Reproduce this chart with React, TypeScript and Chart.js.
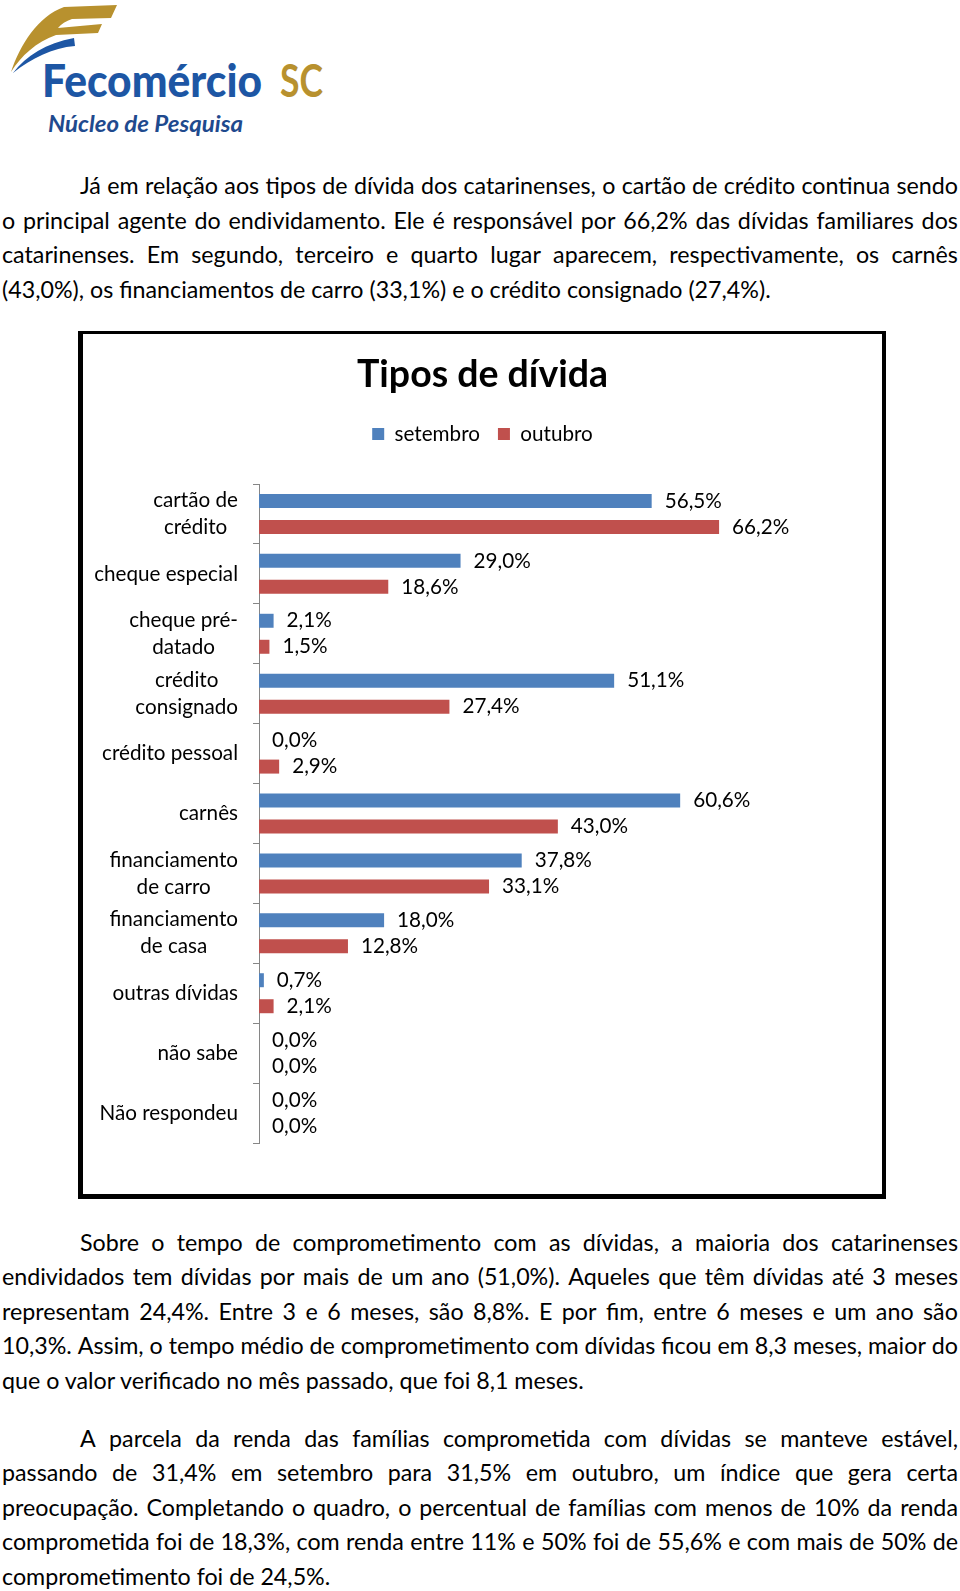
import React, { useEffect, useMemo, useRef } from 'react';
import { Chart, registerables } from 'chart.js';

Chart.register(...registerables);

const FONT = 'Lato';

const categories: string[][] = [
  ['cartão de', 'crédito'],
  ['cheque especial'],
  ['cheque pré-', 'datado'],
  ['crédito', 'consignado'],
  ['crédito pessoal'],
  ['carnês'],
  ['financiamento', 'de carro'],
  ['financiamento', 'de casa'],
  ['outras dívidas'],
  ['não sabe'],
  ['Não respondeu'],
];
const seriesLabels = ['setembro', 'outubro'];
const setembroValues = [56.5, 29.0, 2.1, 51.1, 0.0, 60.6, 37.8, 18.0, 0.7, 0.0, 0.0];
const outubroValues = [66.2, 18.6, 1.5, 27.4, 2.9, 43.0, 33.1, 12.8, 2.1, 0.0, 0.0];
const seriesColors = ['#4f81bd', '#c0504d'];
const chartTitle = 'Tipos de dívida';
const axisMin = 0;
const axisMax = 80;

const paragraph1 = [
  'Já em relação aos tipos de dívida dos catarinenses, o cartão de crédito continua sendo',
  'o principal agente do endividamento. Ele é responsável por 66,2% das dívidas familiares dos',
  'catarinenses. Em segundo, terceiro e quarto lugar aparecem, respectivamente, os carnês',
  '(43,0%), os financiamentos de carro (33,1%) e o crédito consignado (27,4%).',
];
const paragraph2 = [
  'Sobre o tempo de comprometimento com as dívidas, a maioria dos catarinenses',
  'endividados tem dívidas por mais de um ano (51,0%). Aqueles que têm dívidas até 3 meses',
  'representam 24,4%. Entre 3 e 6 meses, são 8,8%. E por fim, entre 6 meses e um ano são',
  '10,3%. Assim, o tempo médio de comprometimento com dívidas ficou em 8,3 meses, maior do',
  'que o valor verificado no mês passado, que foi 8,1 meses.',
];
const paragraph3 = [
  'A parcela da renda das famílias comprometida com dívidas se manteve estável,',
  'passando de 31,4% em setembro para 31,5% em outubro, um índice que gera certa',
  'preocupação. Completando o quadro, o percentual de famílias com menos de 10% da renda',
  'comprometida foi de 18,3%, com renda entre 11% e 50% foi de 55,6% e com mais de 50% de',
  'comprometimento foi de 24,5%.',
];

function measure(text: string, font: string): number {
  const c = document.createElement('canvas').getContext('2d')!;
  c.font = font;
  return c.measureText(text).width;
}
function fitSize(text: string, target: number, weight = 'normal'): number {
  const w = measure(text, `${weight} 100px ${FONT}`);
  return (100 * target) / w;
}

const fmt = (v: number) => v.toFixed(1).replace('.', ',') + '%';

const valueLabelPlugin = {
  id: 'valueLabels',
  afterDatasetsDraw(chart: any, _args: any, opts: any) {
    const ctx = chart.ctx;
    ctx.save();
    ctx.font = `normal ${opts.size}px ${FONT}`;
    ctx.fillStyle = '#000';
    ctx.textAlign = 'left';
    ctx.textBaseline = 'middle';
    chart.data.datasets.forEach((ds: any, di: number) => {
      const meta = chart.getDatasetMeta(di);
      meta.data.forEach((bar: any, i: number) => {
        ctx.fillText(fmt(ds.data[i]), bar.x + opts.gap, bar.y);
      });
    });
    ctx.restore();
  },
};

const categoryLabelPlugin = {
  id: 'categoryLabels',
  afterDraw(chart: any, _args: any, opts: any) {
    const ys = chart.scales.y;
    const ctx = chart.ctx;
    ctx.save();
    ctx.font = `normal ${opts.size}px ${FONT}`;
    ctx.fillStyle = '#000';
    ctx.textAlign = 'center';
    ctx.textBaseline = 'middle';
    const right = chart.chartArea.left - opts.offset;
    categories.forEach((lines, i) => {
      const cy = ys.getPixelForValue(i);
      const blockW = Math.max(...lines.map((l) => ctx.measureText(l).width));
      const cx = right - blockW / 2;
      lines.forEach((l, k) => {
        ctx.fillText(l, cx, cy + (k - (lines.length - 1) / 2) * opts.lineGap);
      });
    });
    ctx.restore();
  },
};

function BarChart({ labelSize, titleSize }: { labelSize: number; titleSize: number }) {
  const ref = useRef<HTMLCanvasElement>(null);
  useEffect(() => {
    if (!ref.current) return;
    const legendPad = 18;
    const titleCenter = 41;
    const legendCenter = 100;
    const plotTop = 150;
    const titleTop = titleCenter - 0.6 * titleSize;
    const titleH = legendCenter - legendPad - labelSize / 2;
    const titleBottom = titleH - titleTop - 1.2 * titleSize;
    const legendH = labelSize + legendPad + 10;
    const xAxisH = plotTop - titleH - legendH;

    const chart = new Chart(ref.current, {
      type: 'bar',
      data: {
        labels: categories.map((c) => c.join(' ')),
        datasets: [
          {
            label: seriesLabels[0],
            data: setembroValues,
            backgroundColor: seriesColors[0],
            borderWidth: 0,
            categoryPercentage: 0.868,
            barPercentage: 0.538,
          },
          {
            label: seriesLabels[1],
            data: outubroValues,
            backgroundColor: seriesColors[1],
            borderWidth: 0,
            categoryPercentage: 0.868,
            barPercentage: 0.538,
          },
        ],
      },
      options: {
        indexAxis: 'y',
        responsive: false,
        animation: false,
        layout: { padding: { left: 67, right: 67, top: 0, bottom: 51 } },
        plugins: {
          title: {
            display: true,
            text: chartTitle,
            color: '#000',
            font: { family: FONT, size: titleSize, weight: 'bold' },
            padding: { top: titleTop, bottom: titleBottom },
          },
          legend: {
            display: true,
            position: 'top',
            labels: {
              boxWidth: 12,
              boxHeight: 12,
              padding: legendPad,
              color: '#000',
              font: { family: FONT, size: labelSize },
            },
          },
          tooltip: { enabled: false },
          valueLabels: { size: labelSize, gap: 13 },
          categoryLabels: { size: labelSize, offset: 21, lineGap: 27 },
        } as any,
        scales: {
          x: {
            position: 'top',
            min: axisMin,
            max: axisMax,
            display: true,
            grid: { display: false },
            border: { display: false },
            ticks: { display: false },
            afterFit: (s: any) => {
              s.height = xAxisH;
            },
          },
          y: {
            grid: { display: true, drawOnChartArea: false, tickLength: 6, color: '#868686', lineWidth: 1 },
            border: { display: true, color: '#868686', width: 1 },
            ticks: { display: false },
            afterFit: (s: any) => {
              s.width = 109;
            },
          },
        },
      },
      plugins: [valueLabelPlugin, categoryLabelPlugin],
    } as any);
    return () => chart.destroy();
  }, [labelSize, titleSize]);
  return (
    <canvas
      ref={ref}
      width={799}
      height={860}
      style={{ position: 'absolute', left: 83, top: 334, width: 799, height: 860 }}
    />
  );
}

function TextLine({ text, center, indent, justify, size }: { text: string; center: number; indent: boolean; justify: boolean; size: number }) {
  const lh = 34.5;
  const left = indent ? 80 : 2;
  const style: React.CSSProperties = {
    position: 'absolute',
    left,
    width: 958 - left,
    top: center - lh / 2,
    height: lh,
    lineHeight: lh + 'px',
    fontFamily: FONT,
    fontSize: size,
    color: '#000',
    whiteSpace: 'nowrap',
  };
  if (justify) {
    return (
      <div style={{ ...style, display: 'flex', justifyContent: 'space-between' }}>
        {text.split(' ').map((w, i) => (
          <span key={i}>{w}</span>
        ))}
      </div>
    );
  }
  return <div style={style}>{text}</div>;
}

function Paragraph({ lines, firstCenter, size }: { lines: string[]; firstCenter: number; size: number }) {
  return (
    <>
      {lines.map((t, i) => (
        <TextLine
          key={i}
          text={t}
          center={firstCenter + i * 34.5}
          indent={i === 0}
          justify={i < lines.length - 1}
          size={size}
        />
      ))}
    </>
  );
}

function Logo() {
  return (
    <svg style={{ position: 'absolute', left: 0, top: 0 }} width={340} height={150}>
      <path
        d="M11 72 C20 45 38 16 64 7 L117 5 L111 18 L72 19 C66 21 61 24 58 28 L102 24 L98 33 L56 35 C36 42 21 56 11 72 Z"
        fill="#b8912e"
      />
      <path d="M13 73 C26 56 46 43 74 38 L75 46 C52 48 32 58 13 73 Z" fill="#1d56a4" />
      <text
        x={42}
        y={97}
        fontFamily="Lato"
        fontWeight={900}
        fontSize={46}
        textLength={220}
        lengthAdjust="spacingAndGlyphs"
        fill="#1d56a4"
      >
        Fecomércio
      </text>
      <text
        x={280}
        y={97}
        fontFamily="Lato"
        fontWeight={700}
        fontSize={46}
        textLength={43}
        lengthAdjust="spacingAndGlyphs"
        fill="#b8912e"
      >
        SC
      </text>
      <text
        x={48}
        y={132}
        fontFamily="Lato"
        fontStyle="italic"
        fontWeight={700}
        fontSize={23}
        textLength={195}
        lengthAdjust="spacingAndGlyphs"
        fill="#1f4a8e"
      >
        Núcleo de Pesquisa
      </text>
    </svg>
  );
}

export default function App() {
  const sizes = useMemo(() => {
    return {
      body: fitSize(paragraph1[3], 769),
      label: fitSize('cheque especial', 144),
      title: fitSize(chartTitle, 251, 'bold'),
    };
  }, []);
  return (
    <div
      style={{
        position: 'absolute',
        left: 0,
        top: 0,
        width: 960,
        height: 1591,
        background: '#fff',
        overflow: 'hidden',
      }}
    >
      <Logo />
      <Paragraph lines={paragraph1} firstCenter={185.7} size={sizes.body} />
      <div
        style={{
          position: 'absolute',
          left: 78,
          top: 331,
          width: 808,
          height: 868,
          boxSizing: 'border-box',
          borderStyle: 'solid',
          borderColor: '#000',
          borderWidth: '3px 4px 5px 5px',
          background: '#fff',
        }}
      />
      <BarChart labelSize={sizes.label} titleSize={sizes.title} />
      <Paragraph lines={paragraph2} firstCenter={1242.1} size={sizes.body} />
      <Paragraph lines={paragraph3} firstCenter={1438} size={sizes.body} />
    </div>
  );
}
